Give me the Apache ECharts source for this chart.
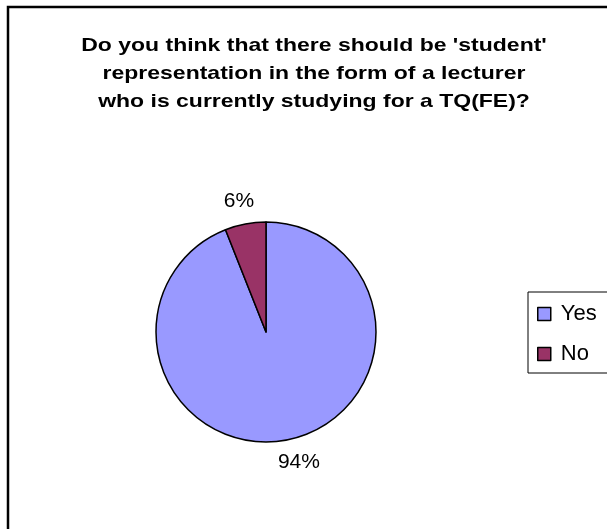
<!DOCTYPE html>
<html>
<head>
<meta charset="utf-8">
<script src="https://cdn.jsdelivr.net/npm/echarts@6/dist/echarts.min.js"></script>
<style>
  html, body { margin: 0; padding: 0; background: #fff; }
  #chart { width: 607px; height: 529px; }
</style>
</head>
<body>
<div id="chart"></div>
<script>
// Survey answers and their shares (percent)
const categories = ['Yes', 'No'];
const shares = [94, 6];
const colors = ['#9999FF', '#993366'];
const titleText = "Do you think that there should be 'student'\nrepresentation in the form of a lecturer\nwho is currently studying for a TQ(FE)?";

const chart = echarts.init(document.getElementById('chart'));
const font = 'Arial, "Liberation Sans", sans-serif';

chart.setOption({
  backgroundColor: '#ffffff',
  animation: false,
  legend: {
    orient: 'vertical',
    left: 528,
    top: 292,
    padding: [11, 30, 8, 9],
    itemGap: 18,
    itemWidth: 13,
    itemHeight: 13,
    borderColor: '#000',
    borderWidth: 1,
    icon: 'rect',
    itemStyle: { borderColor: '#000', borderWidth: 1.5 },
    textStyle: { fontFamily: font, fontSize: 22, color: '#000', lineHeight: 20, padding: [0, 0, 0, 5] },
    data: categories
  },
  graphic: [{
    // chart frame
    type: 'rect',
    shape: { x: 8, y: 7, width: 640, height: 560 },
    style: { fill: 'none', stroke: '#000', lineWidth: 2.5 },
    silent: true
  }, {
    // widely spaced bold title, stretched horizontally
    type: 'text',
    x: 314,
    y: 32,
    originX: 0,
    originY: 0,
    scaleX: 1.21,
    silent: true,
    style: {
      text: titleText,
      align: 'center',
      verticalAlign: 'top',
      font: 'bold 19px ' + font,
      lineHeight: 28,
      fill: '#000'
    }
  }],
  series: [{
    type: 'pie',
    center: [266, 332],
    radius: 110,
    startAngle: 90,
    clockwise: true,
    avoidLabelOverlap: false,
    itemStyle: { borderColor: '#000', borderWidth: 1.5 },
    label: {
      show: true,
      position: 'outside',
      formatter: '{c}%',
      fontFamily: font,
      fontSize: 21,
      color: '#000',
      distanceToLabelLine: 0
    },
    labelLine: { show: false, length: 23, length2: -13 },
    emphasis: { disabled: true },
    data: categories.map((name, i) => ({
      name: name,
      value: shares[i],
      itemStyle: { color: colors[i] }
    }))
  }]
});
</script>
</body>
</html>
